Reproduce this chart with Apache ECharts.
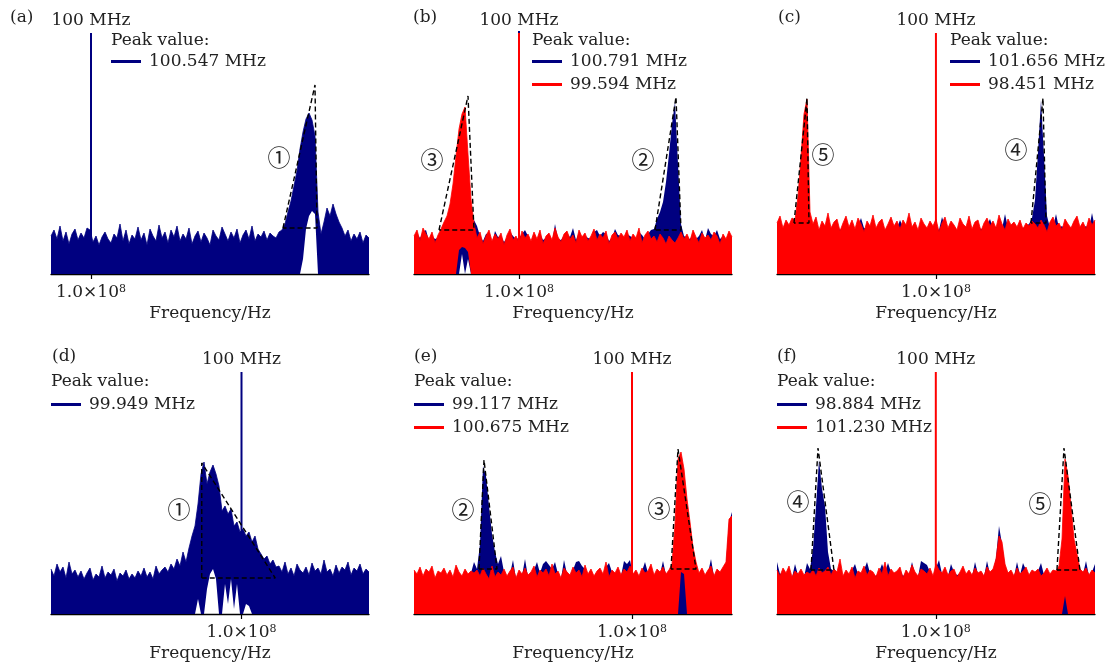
<!DOCTYPE html>
<html>
<head>
<meta charset="utf-8">
<script src="https://cdn.jsdelivr.net/npm/echarts@6/dist/echarts.min.js"></script>
<style>
  html, body { margin: 0; padding: 0; background: #fff; }
  #chart { width: 1114px; height: 666px; }
</style>
</head>
<body>
<div id="chart"></div>
<script>
const NAVY = '#000080';
const RED = '#ff0000';
const TEXT = '#222';
const FONT = '"DejaVu Serif", "Liberation Serif", serif';
const MARK_FONT = '"DejaVu Serif", "Noto Sans CJK SC", serif';

// Frequency sampling of each panel (MHz): first bin and bin width, 107 bins each
const freqStart = { a: 99.9, b: 99.475, c: 97.51, d: 99.746, e: 98.692, f: 98.486 };
const freqStep  = { a: 0.0075, b: 0.015, c: 0.047, d: 0.004, e: 0.018, f: 0.0286 };
const carrierFreq = 100;

// Spectra (relative amplitude), one value per bin
const aBlue = [38,44,35,48,33,42,30,40,45,34, 41,36,46,44,32,38,29,37,42,35,
  31,40,36,50,33,44,30,39,35,47, 34,41,29,45,38,33,49,36,42,31,
  44,37,48,33,40,35,46,30,38,43, 32,41,36,29,44,38,34,47,40,33,
  42,36,45,31,39,44,35,48,33,40, 37,43,34,41,38,36,42,
  44,50,62,73,88,103,125,142,155,161,154,138,62,40,52,66,58,70,60,52,46,
  38,44,33,40,35,42,31,39,36];
const aBlueLowStart = 83;
const aBlueLow = [0,15,45,58,63,60,0];

const bBlue = [35,40,36,42,44,33,38,35,36, 40,44,45,46,44,46,45,42,44,40,46, 54,
  48,38,33,40,41,30,43,37,38,32, 36,42,38,35,36,40,44,38,30,39,
  33,40,34,36,38,31,50,35,34,38, 40,37,46,34,41,36,38,36,35,42,
  44,38,42,40,33,36,45,39,38,34, 40,38,36,34,42,39,35,40,44,
  45,55,62,72,92,120,150,172,110,50,
  38,36,35,40,35,38,44,34,46,40,38, 44,35,38,33,40,36];
const bBlueLowStart = 14;
const bBlueLow = [0,0,20,0,15,0];
const bRed = [38,44,33,46,40,35,42,31,39,
  45,52,58,70,90,118,145,160,167,120,75,50,
  36,42,30,38,44,33,40,35,41,29, 39,45,34,38,31,43,36,40,33,42,
  35,44,30,38,41,34,46,37,32,40, 43,35,39,31,44,37,41,33,38,45,
  34,40,36,43,30,39,42,35,41,37, 44,33,40,36,46,31,39,43,35,38,
  32,40,36,30,38,34,31,36,42,35, 40,33,44,37,31,41,36,39,34,42,
  38,30,40,35,43,37];
const bRedLowStart = 14;
const bRedLow = [0,24,27,26,22,0];

const cBlue = [46,48,44,47,45,46, 48,50,46,48,50,49,
  46,48,44,47,46,49,45,47,48,44, 46,49,45,47,44,48,56,46,45,47,
  48,45,47,46,44,47,49,46,46,54, 47,46,49,45,48,43,47,46,45,48,
  46,47,44,57,48,45,47,46,43,48, 47,46,48,44,46,47,45,46,49,55,
  46,47,48,45,60,46,47,48,46,45, 46,48,50,56,74,122,174,118,58,46,
  47,60,46,48,45,47,46,48,45,47, 46,48,45,61,46];
const cRed = [51,58,46,54,49,56, 54,78,117,160,175,62,
  50,57,44,53,48,61,46,52,55,43, 51,58,47,54,45,56,50,42,53,48,
  59,46,52,55,44,50,57,48,53,45, 54,49,61,47,52,44,56,50,46,53,
  48,55,42,51,57,46,53,49,44,56, 50,47,58,45,52,54,43,51,56,48,
  53,46,59,50,44,55,49,52,47,54, 45,51,48,53,50,46,54,49,42,52,
  57,48,51,44,55,50,46,53,58,47, 52,45,56,49,54];

const dBlue = [45,38,50,42,47,36,52,40,44,37, 43,35,41,46,34,40,37,48,36,42,
  39,45,33,41,38,44,35,40,36,43, 38,46,37,42,35,48,40,44,
  47,42,50,45,55,48,62,52,66,
  78,88,110,140,152,130,142,149,140,128,103,108,100,105,88,92,82,85,78,82,72,78,65,60,55,58,50,54,47,
  48,42,52,40,46,38,50,44,41,47, 39,51,43,46,40,54,42,45,38,49,
  41,47,44,52,39,46,43,50,40,45,42];
const dBlueLowStart = 48;
const dBlueLow = [0,15,0,0,25,40,45,35,0,0,30,10,35,5,30,0,0,10,8,0];

const eBlue = [40,38,42,36,41,40,43,35,40,39, 42,37,41,36,43,40,37,42,38,41, 52,
  45,70,148,138,108,80,62,50,58,
  42,37,40,54,35,41,38,55,37,40, 44,52,41,50,53,49,45,52,40,35,
  54,40,38,44,52,53,48,45,39,42, 37,41,42,39,47,51,42,40,44,38,
  53,50,54,39,42,37,43,52,41,46, 38,42,40,53,39,41,42,43,44,44,
  44,40,38,42,41,39,43,37,41,55, 37,42,40,44,50,92,102];
const eRed = [44,40,47,38,45,42,48,36,43,41, 46,39,44,37,49,42,38,45,40,43,
  41,44,38,46,40,35,48,37,42,39, 45,38,43,47,36,44,40,46,39,42,
  48,37,44,41,45,38,50,40,43,36, 46,42,39,47,41,44,37,49,40,45,
  38,43,46,40,52,37,44,41,47,39, 45,42,48,40,44,38,46,41,43,50,
  39,45,42,47,40,44, 50,90,155,162,145,115,92,67,52,
  41,46,39,44,48,38,45,42,47, 52,95,98];
const eRedLowStart = 88;
const eRedLow = [0,42,40,0];

const fBlue = [52,40,42,38,44,36,50,39,41,37,51,
  45,65,108,154,125,108,62,45,
  43,40,42,37,41,38,44,50,40,39, 44,52,41,40,38,42,50,42,51,42,
  40,42,44,38,41,39,52,40,37,53, 51,49,42,37,46,54,40,44,38,50,
  42,39,40,44,38,41,37,52,40,42, 37,53,40,42, 56,88,70,48,
  40,42,37,52,39,51,44,38,42,40, 43,51,39,42,38,41,40,
  40,42,40,44,41,39,43,40, 40,53,38,42,50];
const fRed = [44,38,46,41,48,37,43,40,45,39,42,
  40,44,38,46,41,43,47,39,
  45,42,55,38,44,40,47,36,43,41, 48,39,44,42,37,46,40,52,38,45,
  41,43,47,36,44,40,49,42,38,45, 43,40,46,38,50,44,41,47,39,43,
  45,37,42,48,40,44,39,46,41,43, 38,47,42,45, 55,78,72,50,
  41,44,38,46,40,43,47,39,44,42, 45,38,41,46,40,44,43,
  48,75,155,138,108,75,60,45, 42,46,39,44,41];
const fRedLowStart = 95;
const fRedLow = [0,18,0];

// Peak outlines (dashed triangles): [frequency MHz, amplitude]
const aOutline1 = [[100.48,46],[100.56,189],[100.565,46],[100.48,46]];
const bOutline3 = [[99.6,44],[99.745,178],[99.775,44],[99.6,44]];
const bOutline2 = [[100.68,44],[100.785,177],[100.81,44],[100.68,44]];
const cOutline5 = [[97.776,51],[97.98,176],[98.011,51],[97.776,51]];
const cOutline4 = [[101.489,51],[101.677,176],[101.724,51],[101.489,51]];
const dOutline1 = [[99.947,36],[99.947,151],[100.045,36],[99.947,36]];
const eOutline2 = [[99.082,45],[99.112,154],[99.19,45],[99.082,45]];
const eOutline3 = [[100.234,45],[100.276,165],[100.384,45],[100.234,45]];
const fOutline4 = [[98.81,44],[98.877,166],[99.029,44],[98.81,44]];
const fOutline5 = [[101.155,44],[101.222,166],[101.374,44],[101.155,44]];

// Legend entries: measured peak frequencies
const aPeaks = ['100.547 MHz'];
const bPeaks = ['100.791 MHz', '99.594 MHz'];
const cPeaks = ['101.656 MHz', '98.451 MHz'];
const dPeaks = ['99.949 MHz'];
const ePeaks = ['99.117 MHz', '100.675 MHz'];
const fPeaks = ['98.884 MHz', '101.230 MHz'];

// stroke: outline width of the filled trace (0 where another trace is drawn over it)
const panels = [
  { key: 'a', left: 51, top: 24, letter: [10, 18], title: [111, 41], legendTop: 53,
    spectra: [{ name: aPeaks[0], color: NAVY, stroke: 0.8, values: aBlue, lowStart: aBlueLowStart, low: aBlueLow }],
    carriers: [{ color: NAVY, level: 241, label: true }],
    outlines: [aOutline1], marks: [['①', 279, 160]] },
  { key: 'b', left: 414, top: 24, letter: [413, 18], title: [532, 41], legendTop: 53,
    spectra: [{ name: bPeaks[0], color: NAVY, stroke: 0, values: bBlue, lowStart: bBlueLowStart, low: bBlueLow },
              { name: bPeaks[1], color: RED, stroke: 0.8, values: bRed, lowStart: bRedLowStart, low: bRedLow }],
    carriers: [{ color: NAVY, level: 243 }, { color: RED, level: 241, label: true }],
    outlines: [bOutline3, bOutline2], marks: [['③', 432, 162], ['②', 643, 162]] },
  { key: 'c', left: 777, top: 24, letter: [778, 18], title: [950, 41], legendTop: 53,
    spectra: [{ name: cPeaks[0], color: NAVY, stroke: 0, values: cBlue },
              { name: cPeaks[1], color: RED, stroke: 0.8, values: cRed }],
    carriers: [{ color: RED, level: 241, label: true }],
    outlines: [cOutline5, cOutline4], marks: [['⑤', 823, 157], ['④', 1016, 152]] },
  { key: 'd', left: 51, top: 364, letter: [52, 357], title: [51, 382], legendTop: 396,
    spectra: [{ name: dPeaks[0], color: NAVY, stroke: 0.8, values: dBlue, lowStart: dBlueLowStart, low: dBlueLow }],
    carriers: [{ color: NAVY, level: 242, label: true }],
    outlines: [dOutline1], marks: [['①', 179, 512]] },
  { key: 'e', left: 414, top: 364, letter: [414, 357], title: [414, 382], legendTop: 396,
    spectra: [{ name: ePeaks[0], color: NAVY, stroke: 0, values: eBlue },
              { name: ePeaks[1], color: RED, stroke: 0.8, values: eRed, lowStart: eRedLowStart, low: eRedLow }],
    carriers: [{ color: RED, level: 242, label: true }],
    outlines: [eOutline2, eOutline3], marks: [['②', 463, 512], ['③', 659, 511]] },
  { key: 'f', left: 777, top: 364, letter: [777, 357], title: [777, 382], legendTop: 396,
    spectra: [{ name: fPeaks[0], color: NAVY, stroke: 0, values: fBlue },
              { name: fPeaks[1], color: RED, stroke: 0.8, values: fRed, lowStart: fRedLowStart, low: fRedLow }],
    carriers: [{ color: RED, level: 242, label: true }],
    outlines: [fOutline4, fOutline5], marks: [['④', 798, 504], ['⑤', 1040, 506]] }
];
const letters = ['(a)', '(b)', '(c)', '(d)', '(e)', '(f)'];

const option = {
  animation: false,
  backgroundColor: '#fff',
  grid: [], xAxis: [], yAxis: [], series: [], legend: [],
  graphic: { elements: [] }
};

function text(str, x, y, size, align, family) {
  return {
    type: 'text', x, y, silent: true,
    style: { text: str, fill: TEXT, fontSize: size, fontFamily: family || FONT,
             align: align || 'left', verticalAlign: 'middle' }
  };
}

panels.forEach((p, gi) => {
  const fs = freqStart[p.key], st = freqStep[p.key];
  const nBins = p.spectra[0].values.length;
  option.grid.push({ left: p.left, top: p.top, width: 318, height: 250 });
  option.xAxis.push({
    gridIndex: gi, type: 'value', min: fs, max: +(fs + (nBins - 1) * st).toFixed(6),
    axisLine: { show: true, onZero: false, lineStyle: { color: '#000', width: 1.3 } },
    axisTick: { show: true, customValues: [carrierFreq], length: 5, lineStyle: { color: '#000', width: 1.2 } },
    axisLabel: {
      show: true, customValues: [carrierFreq], margin: 10,
      formatter: () => '{m|1.0×10}{s|8}',
      rich: {
        m: { fontSize: 17, fontFamily: FONT, color: TEXT },
        s: { fontSize: 11, fontFamily: FONT, color: TEXT, verticalAlign: 'top', padding: [0, 0, 6, 0] }
      }
    },
    splitLine: { show: false },
    name: 'Frequency/Hz', nameLocation: 'middle', nameGap: 31,
    nameTextStyle: { fontSize: 17, fontFamily: FONT, color: TEXT }
  });
  option.yAxis.push({ gridIndex: gi, type: 'value', min: 0, max: 250, show: false });

  // each spectrum is a band between its lower envelope and its upper trace;
  // amplitude comes first in each record so that the stack runs on the y dimension
  p.spectra.forEach(sp => {
    const freqs = sp.values.map((_, i) => +(fs + i * st).toFixed(6));
    const low = sp.values.map((_, i) =>
      (sp.low && i >= sp.lowStart && i < sp.lowStart + sp.low.length) ? sp.low[i - sp.lowStart] : 0);
    const stack = 'band-' + gi + '-' + sp.color;
    option.series.push({
      type: 'line', name: sp.name + ' envelope', xAxisIndex: gi, yAxisIndex: gi, stack,
      encode: { x: 1, y: 0 },
      data: freqs.map((f, i) => [low[i], f]), symbol: 'none', silent: true,
      lineStyle: { width: 0, opacity: 0 }
    });
    option.series.push({
      type: 'line', name: sp.name, xAxisIndex: gi, yAxisIndex: gi, stack,
      encode: { x: 1, y: 0 },
      data: freqs.map((f, i) => [sp.values[i] - low[i], f]), symbol: 'none', silent: true,
      itemStyle: { color: sp.color },
      lineStyle: { color: sp.color, width: sp.stroke, opacity: sp.stroke ? 1 : 0 },
      areaStyle: { color: sp.color, opacity: 1 }
    });
  });

  // 100 MHz reference line
  p.carriers.forEach(c => {
    option.series.push({
      type: 'line', name: 'carrier-' + gi + '-' + c.color, xAxisIndex: gi, yAxisIndex: gi,
      data: [[carrierFreq, 0], {
        value: [carrierFreq, c.level],
        label: c.label ? { show: true, position: 'top', distance: 4, formatter: '100 MHz',
                           fontSize: 17, fontFamily: FONT, color: TEXT } : { show: false }
      }],
      symbol: 'circle', symbolSize: 0.01, showSymbol: true, silent: true,
      itemStyle: { color: c.color },
      lineStyle: { color: c.color, width: 2 }, z: 3
    });
  });

  // dashed peak outlines
  p.outlines.forEach((o, k) => {
    option.series.push({
      type: 'line', name: 'outline-' + gi + '-' + k, xAxisIndex: gi, yAxisIndex: gi,
      data: o, symbol: 'none', silent: true,
      lineStyle: { color: '#000', width: 1.4, type: [5, 3] }, z: 4
    });
  });

  option.legend.push({
    data: p.spectra.map(s => s.name), left: p.title[0], top: p.legendTop,
    orient: 'vertical', icon: 'rect', itemWidth: 30, itemHeight: 3, itemGap: 6,
    padding: 0, selectedMode: false,
    textStyle: { fontSize: 17, fontFamily: FONT, color: TEXT, padding: [0, 0, 0, 3] }
  });

  option.graphic.elements.push(text(letters[gi], p.letter[0], p.letter[1], 17));
  option.graphic.elements.push(text('Peak value:', p.title[0], p.title[1], 17));
  p.marks.forEach(m => option.graphic.elements.push(text(m[0], m[1], m[2], 23, 'center', MARK_FONT)));
});

const chart = echarts.init(document.getElementById('chart'), null, { renderer: 'canvas' });
chart.setOption(option);
</script>
</body>
</html>
